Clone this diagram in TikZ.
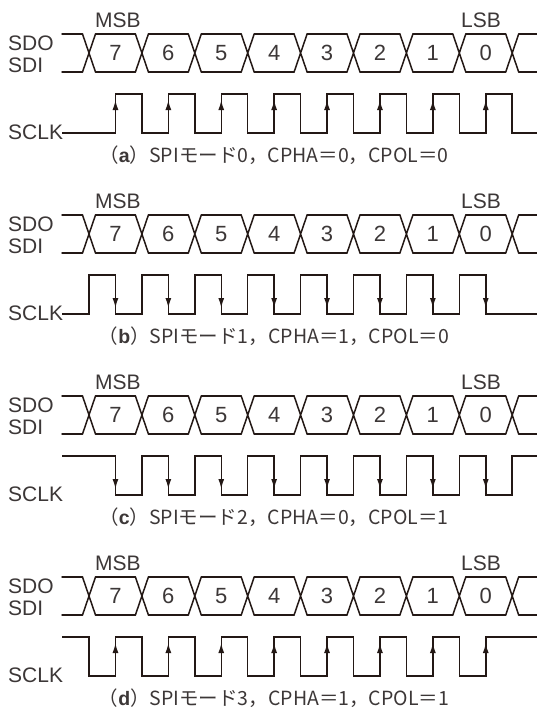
\documentclass[tikz,border=0pt]{standalone}
\usepackage{fontspec}
\setmainfont{Liberation Sans}
\newfontfamily\jpfont{Noto Sans CJK JP}
\usepackage{xcolor}
\usetikzlibrary{arrows.meta}
\definecolor{ink}{RGB}{35,24,21}
\definecolor{labelgray}{RGB}{60,55,55}
\tikzset{
  wave/.style={ink, line width=1.5pt, line cap=round},
  edgearrow/.style={ink, line width=1.5pt, -{Latex[length=10pt,width=6pt]}},
  sig label/.style={labelgray, inner sep=0pt, font=\fontsize{21}{21}\selectfont},
  bit label/.style={labelgray, inner sep=0pt, font=\fontsize{22}{22}\selectfont},
  caption label/.style={labelgray, inner sep=0pt, font=\fontsize{19.5}{19.5}\selectfont}
}

\begin{document}
\begin{tikzpicture}[x=1pt, y=-1pt]
\useasboundingbox (0,0) rectangle (537,710);
\foreach \p/\cpha/\cpol/\tag in {0/0/0/a, 1/1/0/b, 2/0/1/c, 3/1/1/d} {
  \begin{scope}[yshift={-181*\p pt}]
    \pgfmathsetmacro\idle{133-39*\cpol}
    \pgfmathsetmacro\active{94+39*\cpol}
    \pgfmathsetmacro\lead{89+26.45*(1-\cpha)}
    \pgfmathsetmacro\tipy{\cpha==\cpol ? 100 : 127}
    \pgfmathsetmacro\taily{\cpha==\cpol ? 118 : 109}

    \node[sig label, anchor=west] (sdo\tag) at (8,43) {SDO};
    \node[sig label, anchor=west] (sdi\tag) at (8,65) {SDI};
    \node[sig label, anchor=west] (sclk\tag) at (8,132) {SCLK};
    \node[sig label] (msb\tag) at (118,20) {MSB};
    \node[sig label] (lsb\tag) at (481,20) {LSB};

    % data bus
    \draw[wave] (62,34) -- (82.5,34) (62,72) -- (82.5,72);
    \foreach \k in {0,...,8}
      \draw[wave] ({82.5+52.9*\k},34) -- ({95.5+52.9*\k},72)
                  ({82.5+52.9*\k},72) -- ({95.5+52.9*\k},34);
    \foreach \k in {0,...,7}
      \draw[wave] ({95.5+52.9*\k},34) -- ({135.4+52.9*\k},34)
                  ({95.5+52.9*\k},72) -- ({135.4+52.9*\k},72);
    \draw[wave] (518.7,34) -- (537,34) (518.7,72) -- (537,72);
    \foreach \k in {0,...,7} {
      \pgfmathtruncatemacro\bit{7-\k}
      \node[bit label] (bit\tag\k) at ({115.45+52.9*\k},53) {\bit};
    }

    % clock
    \draw[wave, line cap=butt] (62,\idle)
      \foreach \k in {0,...,7} {
        -- ({\lead+52.9*\k},\idle) -- ({\lead+52.9*\k},\active)
        -- ({\lead+26.45+52.9*\k},\active) -- ({\lead+26.45+52.9*\k},\idle)
      } -- (537,\idle);
    \foreach \k in {0,...,7}
      \draw[edgearrow] ({115.45+52.9*\k},\taily) -- ({115.45+52.9*\k},\tipy);

    \node[caption label] (cap\tag) at (274,155)
      {{\jpfont （}\textbf{\tag}{\jpfont ）SPIモード\p，CPHA＝\cpha，CPOL＝\cpol}};
  \end{scope}
}
\end{tikzpicture}
\end{document}
